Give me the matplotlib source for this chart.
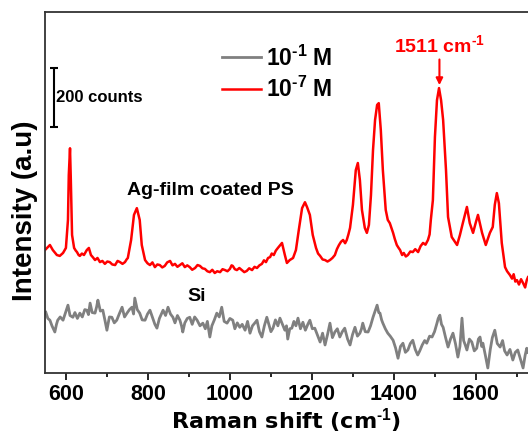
import matplotlib
matplotlib.use("Agg")
import matplotlib.pyplot as plt
from matplotlib.ticker import MultipleLocator

plt.rcParams['font.family'] = ['Liberation Sans', 'DejaVu Sans']
plt.rcParams['font.weight'] = 'bold'
plt.rcParams['mathtext.fontset'] = 'custom'
plt.rcParams['mathtext.rm'] = 'Liberation Sans:bold'
plt.rcParams['mathtext.default'] = 'rm'

# ---- data: 10^-7 M (red) ----
red_x = [549, 556, 561, 568, 578, 585, 593, 600, 605, 607, 610, 612, 615,
         620, 624, 627, 631, 634, 639, 644, 648, 651, 656, 661, 666, 671, 677, 683, 689,
         695, 701, 707, 713, 720, 726, 732, 738, 744, 748, 751,
         759, 766, 773, 780, 785,
         793, 799, 805, 811, 817, 823, 829, 835, 841, 847, 854, 860, 866, 872, 878, 884,
         890, 896, 902, 908, 915, 921, 927, 933, 939, 945, 951, 957, 963, 969, 976, 982,
         988, 994, 1000, 1004, 1007, 1012, 1017, 1023, 1029, 1035, 1041, 1047, 1054, 1060,
         1066, 1072, 1078, 1083, 1088, 1093, 1098, 1102, 1107, 1112, 1117,
         1127, 1134, 1139, 1146, 1154, 1161, 1168, 1176, 1183, 1188, 1195, 1202,
         1210, 1215, 1220, 1226, 1232, 1238, 1244, 1250, 1256, 1261, 1266, 1271, 1276, 1281,
         1285, 1289, 1293,
         1300, 1307, 1312, 1317, 1322, 1329, 1334, 1339, 1344, 1349, 1354, 1359, 1363, 1368,
         1373, 1380, 1385, 1390,
         1398, 1402, 1407, 1411, 1415, 1420, 1424, 1429, 1434, 1440, 1446, 1452, 1459, 1465,
         1471, 1477, 1483, 1487, 1490,
         1495, 1500, 1505, 1510, 1515, 1520, 1527, 1532, 1541, 1554, 1561, 1568, 1578, 1585,
         1593, 1600, 1605, 1615, 1624, 1634, 1641, 1646, 1651, 1656,
         1663, 1667, 1671, 1676, 1683, 1688, 1692, 1696, 1700, 1705, 1710, 1715, 1720, 1724, 1727]
red_y = [417, 427, 434, 417, 400, 397, 407, 424, 519, 671, 762, 654, 468,
         424, 415, 410, 400, 397, 405, 400, 410, 417, 424, 400, 392, 383, 390, 376, 380,
         370, 378, 376, 368, 366, 380, 376, 370, 376, 385, 390,
         451, 536, 559, 519, 434,
         383, 372, 366, 375, 359, 368, 366, 358, 363, 375, 380, 365, 370, 360, 366, 372,
         359, 365, 359, 350, 356, 366, 363, 355, 353, 345, 342, 350, 339, 345, 342, 352,
         349, 345, 353, 365, 363, 352, 349, 356, 349, 342, 346, 355, 349, 360,
         356, 365, 370, 382, 376, 390, 393, 405, 400, 415, 424,
         441, 400, 373, 383, 390, 417, 485, 559, 579, 563, 536, 468,
         424, 405, 397, 385, 383, 378, 383, 390, 400, 420, 434, 445, 451, 440,
         451, 470, 492,
         570, 688, 712, 654, 553, 492, 475, 502, 603, 756, 858, 909, 915, 824,
         688, 553, 519, 508,
         475, 455, 434, 425, 417, 400, 407, 395, 400, 412, 410, 420, 410, 430,
         441, 435, 451, 470, 519,
         586, 800, 925, 966, 925, 858, 688, 529, 461, 434, 468, 508, 563, 508,
         475, 512, 536, 475, 434, 475, 495, 570, 610, 576,
         441, 400, 359, 345, 332, 320, 335, 310, 315, 300, 318, 305, 290, 315, 325]

# ---- data: 10^-1 M (gray) ----
gray_x = [551, 556, 561, 566, 573, 577, 580, 586, 593, 598, 605, 610, 617, 622, 628, 634,
          640, 646, 651, 655, 659, 664, 671, 675, 678, 684, 690, 695, 700, 706, 712, 718,
          724, 730, 737, 743, 749, 755, 761, 765, 768, 774, 780, 786, 793, 799, 805, 812,
          817, 822, 828, 837, 843, 849, 855, 861, 866, 872, 878, 882, 885, 890, 896, 902,
          908, 914, 920, 927, 934, 940, 945, 951, 956, 962, 968, 974, 980, 986, 993, 1000,
          1007, 1012, 1018, 1024, 1030, 1037, 1043, 1049, 1055, 1061, 1066, 1072, 1078, 1084,
          1090, 1095, 1100, 1105, 1111, 1117, 1122, 1128, 1134, 1138, 1141, 1146, 1151, 1156,
          1161, 1166, 1172, 1178, 1184, 1190, 1195, 1201, 1207, 1213, 1220, 1226, 1232, 1238,
          1244, 1250, 1256, 1262, 1268, 1274, 1280, 1287, 1293, 1299, 1305, 1311, 1317, 1321,
          1324, 1330, 1337, 1343, 1349, 1354, 1359, 1363, 1366, 1370, 1373, 1379, 1385, 1391,
          1398, 1404, 1410, 1416, 1422, 1428, 1434, 1440, 1446, 1452, 1458, 1463, 1469, 1475,
          1480, 1487, 1493, 1499, 1505, 1508, 1512, 1516, 1520, 1526, 1532, 1538, 1544, 1550,
          1556, 1561, 1566, 1570, 1574, 1578, 1584, 1590, 1596, 1602, 1606, 1610, 1614, 1617,
          1623, 1629, 1635, 1640, 1646, 1652, 1659, 1665, 1670, 1676, 1683, 1690, 1696, 1702,
          1708, 1715, 1720, 1724, 1727]
gray_y = [206, 185, 179, 160, 139, 165, 179, 190, 179, 200, 230, 195, 189, 205, 185, 203,
          190, 215, 213, 198, 237, 205, 203, 225, 247, 210, 213, 180, 145, 190, 189, 170,
          179, 200, 223, 190, 203, 215, 223, 200, 254, 215, 203, 180, 179, 200, 213, 185,
          165, 152, 185, 213, 195, 223, 200, 189, 170, 195, 179, 160, 139, 170, 185, 189,
          165, 190, 179, 160, 169, 150, 175, 122, 160, 180, 203, 190, 223, 175, 169, 185,
          179, 150, 170, 155, 165, 145, 175, 135, 160, 170, 179, 140, 122, 160,
          189, 165, 140, 152, 180, 160, 186, 165, 145, 160, 115, 150, 152, 175,
          160, 186, 150, 172, 145, 165, 179, 150, 152, 130, 105, 135, 95, 130,
          169, 120, 139, 150, 122, 140, 152, 115, 95, 130, 155, 125, 135, 150,
          169, 140, 139, 160, 189, 210, 230, 205, 203, 180, 169, 150, 135, 125,
          111, 85, 50, 90, 101, 70, 78, 100, 111, 80, 61, 75, 95, 110,
          101, 125, 122, 140, 169, 185, 196, 165, 155, 120, 88, 115, 135, 100,
          54, 90, 186, 110, 95, 78, 115, 105, 75, 84, 115, 122, 90, 101,
          60, 17, 80, 120, 145, 100, 88, 110, 75, 61, 80, 44, 70, 78,
          50, 17, 60, 84, 70]

x_ticks = [600, 800, 1000, 1200, 1400, 1600]
series_labels = [r'10$^{\text{-1}}$ M', r'10$^{\text{-7}}$ M']

fig = plt.figure(figsize=(5.28, 4.34), dpi=100)
ax = fig.add_axes([45/528, 61/434, 483/528, 361/434])

ax.plot(gray_x, gray_y, color='#808080', lw=2.0, label=series_labels[0])
ax.plot(red_x, red_y, color='#ff0000', lw=1.8, label=series_labels[1])

ax.set_xlim(549, 1727)
ax.set_ylim(0, 1224)
ax.set_xticks(x_ticks)
ax.xaxis.set_minor_locator(MultipleLocator(100))
ax.set_yticks([])
ax.tick_params(axis='x', which='major', direction='out', length=5, width=1.2,
               labelsize=15.5, pad=3)
ax.tick_params(axis='x', which='minor', direction='out', length=3, width=1.2)
for lab in ax.get_xticklabels():
    lab.set_fontweight('bold')
for s in ['left', 'bottom', 'top']:
    ax.spines[s].set_linewidth(1.3)
    ax.spines[s].set_color('#333333')
ax.spines['right'].set_visible(False)

ax.set_xlabel(r'Raman shift (cm$^{\text{-1}}$)', fontsize=16, fontweight='bold',
              family=['DejaVu Sans'], labelpad=1)
ax.set_ylabel('Intensity (a.u)', fontsize=20, fontweight='bold')
ax.yaxis.set_label_coords(-0.014, 0.45)

leg = ax.legend(loc='upper left', bbox_to_anchor=(0.367, 0.908), frameon=False,
                fontsize=16.5, handlelength=1.7, handletextpad=0.2, labelspacing=0.27,
                borderpad=0, borderaxespad=0)

# scale bar
ax.errorbar([571], [933], yerr=[100], color='black', lw=1.5, capsize=3, capthick=1.5)
ax.text(577, 933, '200 counts', fontsize=12, fontweight='bold', va='center', ha='left')

# annotations
ax.text(1511, 1111, r'1511 cm$^{\text{-1}}$', color='#ff0000', fontsize=14,
        fontweight='bold', ha='center', va='center')
ax.annotate('', xy=(1511, 976), xytext=(1511, 1063),
            arrowprops=dict(arrowstyle='-|>', color='#ff0000', lw=1.5,
                            mutation_scale=10, shrinkA=0, shrinkB=0))
ax.text(749, 620, 'Ag-film coated PS', fontsize=14, fontweight='bold', ha='left', va='center')
ax.text(920, 260, 'Si', fontsize=14, fontweight='bold', ha='center', va='center')

fig.savefig('out.png', dpi=100)
